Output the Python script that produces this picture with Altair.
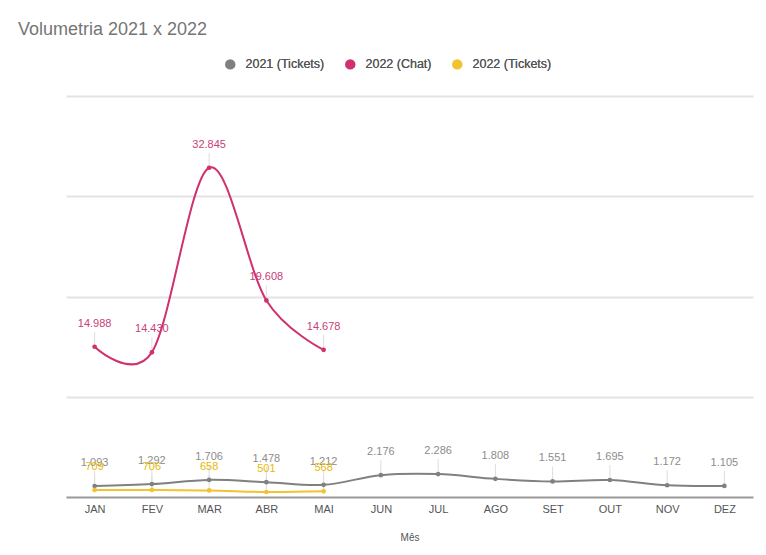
import altair as alt
import pandas as pd

meses = ["JAN", "FEV", "MAR", "ABR", "MAI", "JUN", "JUL", "AGO", "SET", "OUT", "NOV", "DEZ"]
tickets_2021 = [1093, 1292, 1706, 1478, 1212, 2176, 2286, 1808, 1551, 1695, 1172, 1105]
chat_2022 = [14988, 14430, 32845, 19608, 14678]
tickets_2022 = [709, 706, 658, 501, 568]

series = ["2021 (Tickets)", "2022 (Chat)", "2022 (Tickets)"]
cores = ["#808080", "#d0306e", "#f2c230"]
cores_rotulo = ["#8c8c8c", "#c8407a", "#e8b800"]

rows = []
for nome, vals in zip(series, [tickets_2021, chat_2022, tickets_2022]):
    for i, v in enumerate(vals):
        rows.append({"mes": meses[i], "serie": nome, "valor": v,
                     "rotulo": f"{v:,}".replace(",", ".")})
df = pd.DataFrame(rows)

FONT = "Liberation Sans"

x = alt.X("mes:N", sort=meses, scale=alt.Scale(domain=meses, type="point", padding=0.5),
          axis=alt.Axis(title="Mês", labelAngle=0, ticks=False, grid=False,
                        domainColor="#9a9a9a", domainWidth=2, labelColor="#555555",
                        labelFontSize=11, labelPadding=6, titleFontSize=10,
                        titleFontWeight="normal", titleColor="#555555", titlePadding=18))
y = alt.Y("valor:Q", scale=alt.Scale(domain=[0, 40000], nice=False),
          axis=alt.Axis(title=None, labels=False, ticks=False, domain=False,
                        values=[10000, 20000, 30000, 40000], gridColor="#e3e3e3", gridWidth=2))
color = alt.Color("serie:N", scale=alt.Scale(domain=series, range=cores),
                  legend=alt.Legend(title=None, orient="none", legendX=158, legendY=-38,
                                    direction="horizontal", symbolType="circle", symbolSize=110,
                                    symbolStrokeWidth=0, labelFontSize=12.5, labelFontWeight="normal",
                                    labelColor="#555555", labelOffset=9, columnPadding=19))

base = alt.Chart(df).encode(x=x, y=y, color=color)

stems = base.mark_rule(strokeWidth=1, y2Offset=-15).encode(
    y2="valor:Q", color=alt.value("#dddddd"))
lines = base.mark_line(interpolate="cardinal", strokeWidth=2)
points = base.mark_circle(size=22, opacity=1)
labels = base.mark_text(dy=-23, fontSize=11, font=FONT).encode(
    text="rotulo:N",
    color=alt.Color("serie:N", scale=alt.Scale(domain=series, range=cores_rotulo), legend=None))

chart = alt.layer(stems, lines, points, labels).resolve_scale(color="independent").properties(
    width=687, height=401,
    autosize=alt.AutoSizeParams(type="none"),
    padding={"left": 58, "top": 88, "right": 5, "bottom": 50},
    title=alt.TitleParams("Volumetria 2021 x 2022", anchor="start", dx=-48, offset=19,
                          fontSize=18, fontWeight="normal", color="#757575", font=FONT),
).configure(font=FONT).configure_view(stroke=None)

chart.save("out.html", embed_options={"renderer": "svg", "actions": False})
